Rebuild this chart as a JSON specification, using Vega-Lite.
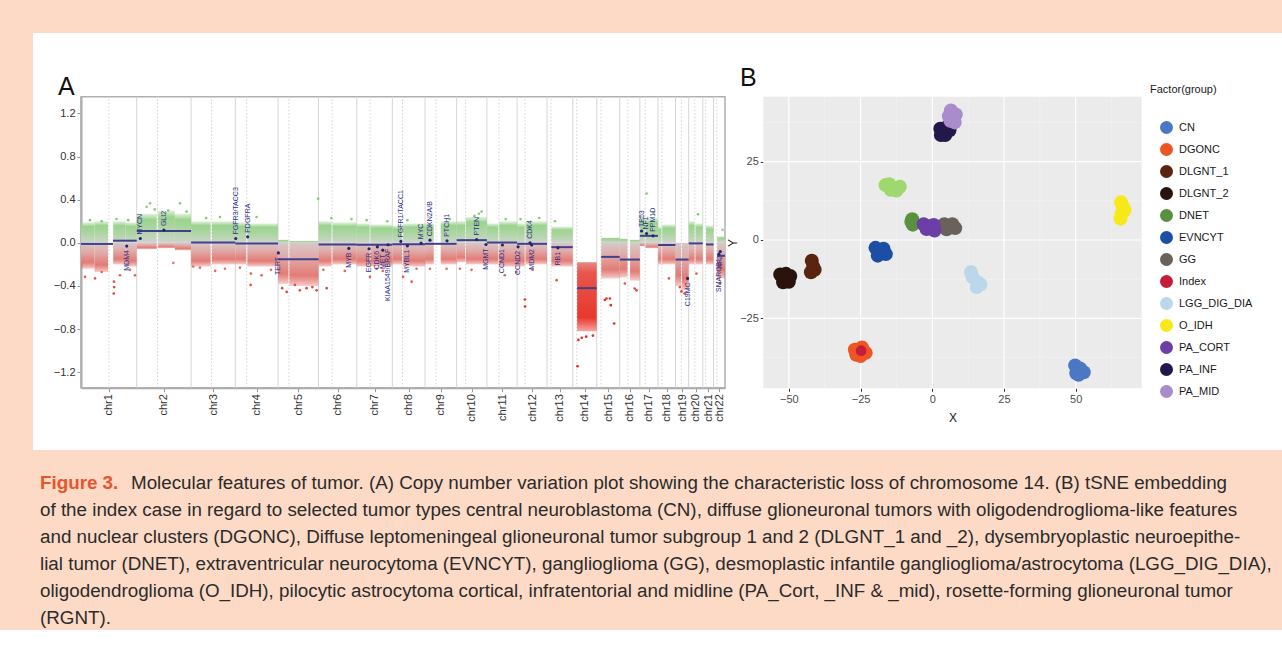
{
 "$schema": "https://vega.github.io/schema/vega-lite/v6.json",
 "background": "#fcdac6",
 "padding": {"left": 33, "top": 33, "right": 0, "bottom": 0},
 "spacing": 0,
 "config": {"view": {"stroke": null}, "font": "Liberation Sans"},
 "datasets": {
  "bounds": [{"p":249.25},{"p":492.45},{"p":690.45},{"p":881.6},{"p":1062.5},{"p":1233.6},{"p":1392.7},{"p":1539.1},{"p":1680.3},{"p":1815.8},{"p":1950.8},{"p":2084.65},{"p":2199.85},{"p":2307.2},{"p":2409.7},{"p":2500.05},{"p":2581.25},{"p":2659.35},{"p":2718.45},{"p":2781.45},{"p":2829.55}],
  "cens": [{"p":125},{"p":342.55},{"p":583.45},{"p":740.85},{"p":930},{"p":1123.5},{"p":1293.5},{"p":1438.3},{"p":1588.1},{"p":1720.5},{"p":1869.5},{"p":1986.6},{"p":2102.55},{"p":2217.45},{"p":2326.2},{"p":2446.3},{"p":2524.05},{"p":2598.45},{"p":2685.85},{"p":2745.95},{"p":2794.65},{"p":2844.25}],
  "bands": [
   {"s":0,"e":60,"hi":0.19,"lo":-0.24},{"s":60,"e":121,"hi":0.2,"lo":-0.27},{"s":144,"e":200,"hi":0.2,"lo":-0.2},{"s":200,"e":249.25,"hi":0.19,"lo":-0.22},
   {"s":249.5,"e":339,"hi":0.27,"lo":-0.06},{"s":345,"e":420,"hi":0.3,"lo":-0.05},{"s":420,"e":492.4,"hi":0.27,"lo":-0.07},
   {"s":492.5,"e":580,"hi":0.2,"lo":-0.22},{"s":586,"e":690.4,"hi":0.2,"lo":-0.2},
   {"s":690.5,"e":739,"hi":0.19,"lo":-0.2},{"s":744,"e":881.5,"hi":0.18,"lo":-0.22},
   {"s":881.7,"e":928,"hi":0.03,"lo":-0.38},{"s":932,"e":1062.4,"hi":0.02,"lo":-0.4},
   {"s":1062.6,"e":1121,"hi":0.2,"lo":-0.22},{"s":1125,"e":1233.5,"hi":0.19,"lo":-0.2},
   {"s":1233.7,"e":1291.5,"hi":0.18,"lo":-0.22},{"s":1294.6,"e":1392.6,"hi":0.17,"lo":-0.22},
   {"s":1392.8,"e":1436,"hi":0.16,"lo":-0.2},{"s":1441,"e":1539,"hi":0.18,"lo":-0.22},
   {"s":1539.2,"e":1578,"hi":0.18,"lo":-0.2},{"s":1609,"e":1680.2,"hi":0.2,"lo":-0.2},
   {"s":1680.4,"e":1719,"hi":0.2,"lo":-0.18},{"s":1722.3,"e":1815.7,"hi":0.24,"lo":-0.2},
   {"s":1815.9,"e":1866.8,"hi":0.18,"lo":-0.2},{"s":1870.8,"e":1950.7,"hi":0.2,"lo":-0.22},
   {"s":1950.9,"e":1984.8,"hi":0.18,"lo":-0.22},{"s":1988.3,"e":2084.6,"hi":0.2,"lo":-0.2},
   {"s":2104.15,"e":2199.8,"hi":0.15,"lo":-0.22},
   {"s":2327.2,"e":2409.6,"hi":0.05,"lo":-0.33},
   {"s":2409.8,"e":2444.7,"hi":0.04,"lo":-0.32},{"s":2456.2,"e":2500,"hi":0.03,"lo":-0.35},
   {"s":2500.1,"e":2522,"hi":0.25,"lo":-0.03},{"s":2525,"e":2581.2,"hi":0.23,"lo":-0.05},
   {"s":2581.3,"e":2596.6,"hi":0.15,"lo":-0.2},{"s":2599.7,"e":2659.3,"hi":0.17,"lo":-0.2},
   {"s":2659.4,"e":2683.9,"hi":0,"lo":-0.4},{"s":2687.9,"e":2718.4,"hi":0,"lo":-0.44},
   {"s":2718.5,"e":2744.8,"hi":0.2,"lo":-0.2},{"s":2748.4,"e":2781.4,"hi":0.18,"lo":-0.2},
   {"s":2796,"e":2829.5,"hi":0.16,"lo":-0.2},
   {"s":2845.55,"e":2880.8,"hi":0.06,"lo":-0.33}
  ],
  "deep": [{"s":2219.35,"e":2307.1,"hi":-0.18,"lo":-0.82}],
  "pts": [
   {"p":17.9,"v":-0.315},{"p":62.6,"v":-0.33},{"p":92.6,"v":-0.27},{"p":147.6,"v":-0.36},{"p":148.5,"v":-0.41},{"p":146.5,"v":-0.47},{"p":174.4,"v":-0.3},{"p":219,"v":-0.25},{"p":241.5,"v":-0.3},{"p":40,"v":0.21},{"p":92.6,"v":0.2},{"p":159,"v":0.22},{"p":211,"v":0.21},
   {"p":412.8,"v":-0.186},{"p":293.8,"v":0.334},{"p":308.6,"v":0.366},{"p":442.8,"v":0.366},{"p":390.4,"v":0.3},{"p":472.7,"v":0.29},{"p":330,"v":0.31},
   {"p":502,"v":-0.22},{"p":532,"v":-0.23},{"p":644,"v":-0.24},{"p":621.6,"v":0.24},{"p":560,"v":0.23},{"p":600,"v":-0.26},
   {"p":760,"v":-0.285},{"p":759,"v":-0.39},{"p":808,"v":-0.3},{"p":711,"v":-0.23},{"p":785.6,"v":0.24},{"p":850,"v":-0.25},
   {"p":920,"v":-0.455},{"p":979,"v":-0.44},{"p":1009,"v":-0.42},{"p":1054,"v":-0.44},{"p":957,"v":-0.39},{"p":1061,"v":0.41},{"p":900,"v":-0.42},{"p":1035,"v":-0.41},
   {"p":1099,"v":-0.42},{"p":1084,"v":-0.25},{"p":1120,"v":0.23},{"p":1180,"v":-0.26},{"p":1210,"v":0.22},
   {"p":1292.5,"v":-0.315},{"p":1322,"v":-0.24},{"p":1350,"v":-0.26},{"p":1277.7,"v":0.21},{"p":1370,"v":0.2},
   {"p":1441,"v":-0.315},{"p":1479,"v":-0.36},{"p":1501,"v":-0.24},{"p":1460,"v":0.21},
   {"p":1561,"v":-0.24},{"p":1635.5,"v":-0.24},{"p":1650,"v":0.22},
   {"p":1747,"v":-0.25},{"p":1695,"v":-0.24},{"p":1792,"v":0.29},{"p":1780,"v":0.27},{"p":1760,"v":0.25},
   {"p":1896,"v":-0.3},{"p":1948,"v":-0.27},{"p":1900,"v":0.22},
   {"p":1985.7,"v":-0.525},{"p":1986.5,"v":-0.59},{"p":2020,"v":-0.25},{"p":1966,"v":0.22},{"p":2050,"v":0.23},
   {"p":2127.5,"v":-0.346},{"p":2120,"v":0.2},
   {"p":2221.4,"v":-1.144},{"p":2225,"v":-0.9},{"p":2240,"v":-0.88},{"p":2290,"v":-0.86},{"p":2260,"v":-0.87},
   {"p":2343.5,"v":-0.53},{"p":2351,"v":-0.516},{"p":2366,"v":-0.516},{"p":2370,"v":-0.578},{"p":2385,"v":-0.748},
   {"p":2433,"v":-0.377},{"p":2477,"v":-0.423},{"p":2485,"v":-0.44},
   {"p":2530,"v":0.458},{"p":2560,"v":0.28},
   {"p":2630,"v":-0.33},
   {"p":2679,"v":-0.41},{"p":2686,"v":-0.45},{"p":2700,"v":-0.47},
   {"p":2760,"v":0.264},{"p":2753,"v":-0.285},
   {"p":2860,"v":-0.37},{"p":2870,"v":0.12}
  ],
  "segs": [
   {"s":0,"e":143,"v":-0.01},{"s":143,"e":249.25,"v":0.02},{"s":249.25,"e":492.45,"v":0.11},{"s":492.45,"e":690.45,"v":0.003},{"s":690.45,"e":881.6,"v":-0.006},{"s":881.6,"e":1062.5,"v":-0.153},{"s":1062.5,"e":1233.6,"v":-0.015},{"s":1233.6,"e":1392.7,"v":-0.018},{"s":1392.7,"e":1539.1,"v":-0.012},{"s":1539.1,"e":1680.3,"v":-0.009},{"s":1680.3,"e":1815.8,"v":0.025},{"s":1815.8,"e":1950.8,"v":0.003},{"s":1950.8,"e":2084.65,"v":-0.009},{"s":2104,"e":2199.85,"v":-0.04},{"s":2219,"e":2307.2,"v":-0.42},{"s":2327,"e":2409.7,"v":-0.13},{"s":2409.7,"e":2500.05,"v":-0.155},{"s":2500.05,"e":2581.25,"v":0.065},{"s":2581.25,"e":2659.35,"v":-0.02},{"s":2659.35,"e":2718.45,"v":-0.155},{"s":2718.45,"e":2781.45,"v":-0.005},{"s":2796,"e":2829.55,"v":-0.015},{"s":2845.5,"e":2880.85,"v":-0.12}
  ],
  "genes": [
   {"g":"MDM4","p":204.5,"v":-0.03,"side":"b"},{"g":"MYCN","p":265.25,"v":0.04,"side":"a"},{"g":"GLI2","p":370.75,"v":0.118,"side":"a"},{"g":"FGFR3/TACC3","p":692.25,"v":0.04,"side":"a"},{"g":"PDGFRA","p":745.45,"v":0.056,"side":"a"},{"g":"TERT","p":882.9,"v":-0.093,"side":"b"},{"g":"MYB","p":1198,"v":-0.052,"side":"b"},{"g":"EGFR","p":1288.7,"v":-0.055,"side":"b"},{"g":"CDK6","p":1325.9,"v":-0.037,"side":"b"},{"g":"MET","p":1350,"v":-0.068,"side":"b"},{"g":"KIAA1549/BRAF","p":1373.6,"v":-0.018,"side":"b"},{"g":"FGFR1/TACC1","p":1431,"v":0.013,"side":"a"},{"g":"MYBL1","p":1460.2,"v":-0.028,"side":"b"},{"g":"MYC","p":1521.4,"v":-0.003,"side":"a"},{"g":"CDKN2A/B","p":1561.1,"v":0.025,"side":"a"},{"g":"PTCH1","p":1637.3,"v":0.019,"side":"a"},{"g":"PTEN","p":1769.9,"v":0.031,"side":"a"},{"g":"MGMT","p":1811.6,"v":-0.015,"side":"b"},{"g":"CCND1","p":1885.3,"v":-0.02,"side":"b"},{"g":"CCND2","p":1955.2,"v":-0.037,"side":"b"},{"g":"CDK4","p":2008.8,"v":0.0,"side":"a"},{"g":"MDM2","p":2016,"v":-0.02,"side":"b"},{"g":"RB1","p":2133.55,"v":-0.046,"side":"b"},{"g":"TP53","p":2507.65,"v":0.11,"side":"a"},{"g":"NF1","p":2529.65,"v":0.087,"side":"a"},{"g":"PPM1D","p":2558.75,"v":0.065,"side":"a"},{"g":"C19MC","p":2713.55,"v":-0.33,"side":"b"},{"g":"SMARCB1","p":2853.65,"v":-0.105,"side":"b"},{"g":"NF2","p":2859.7,"v":-0.08,"side":"b"}
  ],
  "tsne": [
   {"group":"CN","tx":49.8,"ty":-40},{"group":"CN","tx":51.5,"ty":-41},{"group":"CN","tx":52.8,"ty":-42.2},{"group":"CN","tx":50.2,"ty":-42.5},{"group":"CN","tx":51,"ty":-43},
   {"group":"DGONC","tx":-27,"ty":-35},{"group":"DGONC","tx":-24.5,"ty":-34.3},{"group":"DGONC","tx":-23.2,"ty":-36},{"group":"DGONC","tx":-25,"ty":-37},{"group":"DGONC","tx":-26.5,"ty":-36.6},
   {"group":"DLGNT_1","tx":-42,"ty":-6.6},{"group":"DLGNT_1","tx":-41.5,"ty":-8.5},{"group":"DLGNT_1","tx":-42.3,"ty":-10.3},{"group":"DLGNT_1","tx":-41,"ty":-9.5},
   {"group":"DLGNT_2","tx":-53,"ty":-11},{"group":"DLGNT_2","tx":-51,"ty":-10.8},{"group":"DLGNT_2","tx":-49.5,"ty":-11.5},{"group":"DLGNT_2","tx":-52,"ty":-13.5},{"group":"DLGNT_2","tx":-50,"ty":-13.3},
   {"group":"DNET","tx":-7,"ty":6.6},{"group":"DNET","tx":-6.8,"ty":4.9},{"group":"DNET","tx":-7.3,"ty":5.8},
   {"group":"EVNCYT","tx":-19.8,"ty":-2.5},{"group":"EVNCYT","tx":-17,"ty":-2.8},{"group":"EVNCYT","tx":-16.2,"ty":-4.5},{"group":"EVNCYT","tx":-19,"ty":-5},{"group":"EVNCYT","tx":-18,"ty":-3.8},
   {"group":"GG","tx":4.2,"ty":5},{"group":"GG","tx":6,"ty":4.5},{"group":"GG","tx":8,"ty":3.8},{"group":"GG","tx":7,"ty":5},{"group":"GG","tx":5,"ty":3.4},
   {"group":"LGG_DIG_DIA","tx":13.5,"ty":-10.2},{"group":"LGG_DIG_DIA","tx":14,"ty":-11.8},{"group":"LGG_DIG_DIA","tx":15.8,"ty":-13.5},{"group":"LGG_DIG_DIA","tx":16.8,"ty":-14.2},{"group":"LGG_DIG_DIA","tx":15.5,"ty":-15},
   {"group":"O_IDH","tx":65.8,"ty":12},{"group":"O_IDH","tx":66.5,"ty":10.5},{"group":"O_IDH","tx":66,"ty":8.5},{"group":"O_IDH","tx":65.6,"ty":6.8},{"group":"O_IDH","tx":67,"ty":9.5},
   {"group":"PA_INF","tx":2.8,"ty":35.5},{"group":"PA_INF","tx":4.5,"ty":33.5},{"group":"PA_INF","tx":6,"ty":35},{"group":"PA_INF","tx":3,"ty":33.5},{"group":"PA_INF","tx":5,"ty":36},
   {"group":"PA_MID","tx":6.5,"ty":41.3},{"group":"PA_MID","tx":8.2,"ty":40},{"group":"PA_MID","tx":6.3,"ty":38},{"group":"PA_MID","tx":7.8,"ty":37.5},{"group":"PA_MID","tx":5.8,"ty":39.5},
   {"group":"RGNT","tx":-16.3,"ty":17.5},{"group":"RGNT","tx":-14.5,"ty":16},{"group":"RGNT","tx":-12.5,"ty":15.8},{"group":"RGNT","tx":-11.3,"ty":17},{"group":"RGNT","tx":-15,"ty":17.8},
   {"group":"PA_CORT","tx":-3,"ty":5},{"group":"PA_CORT","tx":-1,"ty":4.3},{"group":"PA_CORT","tx":0.8,"ty":3},{"group":"PA_CORT","tx":-2,"ty":3.5},{"group":"PA_CORT","tx":0.5,"ty":4.8},
   {"group":"Index","tx":-24.8,"ty":-35.3}
  ],
  "gxmaj": [{"g":-50},{"g":-25},{"g":0},{"g":25},{"g":50}],
  "gxmin": [{"g":-37.5},{"g":-12.5},{"g":12.5},{"g":37.5},{"g":62.5}],
  "gymaj": [{"g":-25},{"g":0},{"g":25}],
  "gymin": [{"g":-37.5},{"g":-12.5},{"g":12.5},{"g":37.5}],
  "cap": [
   {"line":2,"t":"of the index case in regard to selected tumor types central neuroblastoma (CN), diffuse glioneuronal tumors with oligodendroglioma-like features"},
   {"line":3,"t":"and nuclear clusters (DGONC), Diffuse leptomeningeal glioneuronal tumor subgroup 1 and 2 (DLGNT_1 and _2), dysembryoplastic neuroepithe-"},
   {"line":4,"t":"lial tumor (DNET), extraventricular neurocytoma (EVNCYT), ganglioglioma (GG), desmoplastic infantile ganglioglioma/astrocytoma (LGG_DIG_DIA),"},
   {"line":5,"t":"oligodendroglioma (O_IDH), pilocytic astrocytoma cortical, infratentorial and midline (PA_Cort, _INF & _mid), rosette-forming glioneuronal tumor"},
   {"line":6,"t":"(RGNT)."}
  ]
 },
 "vconcat": [
  {
   "width": 1249,
   "height": 417,
   "view": {"fill": "#ffffff", "stroke": null},
   "resolve": {"scale": {"x": "independent", "y": "independent", "color": "independent", "size": "independent"}, "axis": {"x": "independent", "y": "independent"}, "legend": {"color": "independent", "size": "independent"}},
   "layer": [
    {
     "layer": [
      {
       "data": {"values": [{"k": "A"}]},
       "mark": {"type": "rect", "fillOpacity": 0, "fill": "#ffffff", "stroke": "#b0b0b0", "strokeWidth": 1.5},
       "encoding": {
        "x": {"datum": 0, "scale": {"domain": [0, 2880.85], "range": [48, 692], "nice": false, "zero": false}, "axis": {"orient": "bottom", "offset": -62.3, "values": [124.6, 370.85, 591.45, 786.0, 972.05, 1148.05, 1313.15, 1465.9, 1609.7, 1748.05, 1883.3, 2017.7, 2142.25, 2253.5, 2358.45, 2454.9, 2540.65, 2620.3, 2688.9, 2749.95, 2805.5, 2855.2], "labelExpr": "'chr' + (indexof([124.6, 370.85, 591.45, 786.0, 972.05, 1148.05, 1313.15, 1465.9, 1609.7, 1748.05, 1883.3, 2017.7, 2142.25, 2253.5, 2358.45, 2454.9, 2540.65, 2620.3, 2688.9, 2749.95, 2805.5, 2855.2], datum.value) + 1)", "labelAngle": -90, "labelOverlap": false, "labelBound": false, "labelFlush": false, "labelFontSize": 11, "labelColor": "#333333", "labelPadding": 2, "tickSize": 4, "tickColor": "#999999", "domainColor": "#a8a8a8", "domainWidth": 2, "grid": false, "title": null}},
        "x2": {"datum": 2880.85},
        "y": {"datum": -1.343, "scale": {"domain": [-1.343, 1.355], "range": [354.7, 63.7], "nice": false, "zero": false}, "axis": {"orient": "left", "offset": -48, "values": [-1.2, -0.8, -0.4, 0, 0.4, 0.8, 1.2], "format": ".1f", "labelOverlap": false, "labelFontSize": 11, "labelColor": "#333333", "labelPadding": 2, "tickSize": 4, "tickColor": "#999999", "domainColor": "#a8a8a8", "domainWidth": 2, "grid": false, "title": null}},
        "y2": {"datum": 1.355}
       }
      },
      {
       "data": {"name": "bounds"},
       "mark": {"type": "rule", "color": "#d6d6d6", "strokeWidth": 1},
       "encoding": {
        "x": {"field": "p", "type": "quantitative"},
        "y": {"datum": -1.343},
        "y2": {"datum": 1.355}
       }
      },
      {
       "data": {"name": "cens"},
       "mark": {"type": "rule", "color": "#d2d2d2", "strokeWidth": 1, "strokeDash": [1.5, 2]},
       "encoding": {
        "x": {"field": "p", "type": "quantitative"},
        "y": {"datum": -1.343},
        "y2": {"datum": 1.355}
       }
      },
      {
       "data": {"name": "bands"},
       "transform": [{"filter": "datum.hi > 0"}],
       "mark": {"type": "rect", "color": {"gradient": "linear", "x1": 0, "y1": 1, "x2": 0, "y2": 0, "stops": [{"offset": 0, "color": "#cfd2cd"}, {"offset": 0.35, "color": "#b3d6aa"}, {"offset": 0.8, "color": "#9bd38e"}, {"offset": 1, "color": "rgba(160,214,146,0.3)"}]}},
       "encoding": {
        "x": {"field": "s", "type": "quantitative"},
        "x2": {"field": "e"},
        "y": {"field": "hi", "type": "quantitative"},
        "y2": {"datum": 0}
       }
      },
      {
       "data": {"name": "bands"},
       "mark": {"type": "rect", "color": {"gradient": "linear", "x1": 0, "y1": 0, "x2": 0, "y2": 1, "stops": [{"offset": 0, "color": "#d6c8c8"}, {"offset": 0.35, "color": "#e0aaa8"}, {"offset": 0.75, "color": "#e27c76"}, {"offset": 1, "color": "rgba(226,96,88,0.3)"}]}},
       "encoding": {
        "x": {"field": "s", "type": "quantitative"},
        "x2": {"field": "e"},
        "y": {"field": "lo", "type": "quantitative"},
        "y2": {"datum": 0}
       }
      },
      {
       "data": {"name": "deep"},
       "mark": {"type": "rect", "color": {"gradient": "linear", "x1": 0, "y1": 0, "x2": 0, "y2": 1, "stops": [{"offset": 0, "color": "#e58a82"}, {"offset": 0.15, "color": "#e8564c"}, {"offset": 0.8, "color": "#e8382c"}, {"offset": 1, "color": "rgba(232,40,30,0.4)"}]}},
       "encoding": {
        "x": {"field": "s", "type": "quantitative"},
        "x2": {"field": "e"},
        "y": {"field": "lo", "type": "quantitative"},
        "y2": {"field": "hi"}
       }
      },
      {
       "data": {"name": "pts"},
       "mark": {"type": "point", "filled": true, "size": 7, "opacity": 1},
       "encoding": {
        "x": {"field": "p", "type": "quantitative"},
        "y": {"field": "v", "type": "quantitative"},
        "color": {"field": "v", "type": "quantitative", "scale": {"domain": [-0.6, -0.25, 0, 0.2], "range": ["#e6261c", "#e06a62", "#d0c4c4", "#86cc74"], "interpolate": "rgb", "clamp": true}, "legend": null}
       }
      },
      {
       "data": {"name": "segs"},
       "mark": {"type": "rule", "color": "#40408e", "strokeWidth": 2},
       "encoding": {
        "x": {"field": "s", "type": "quantitative"},
        "x2": {"field": "e"},
        "y": {"field": "v", "type": "quantitative"}
       }
      },
      {
       "data": {"name": "genes"},
       "mark": {"type": "point", "filled": true, "size": 10, "color": "#24246e", "opacity": 1},
       "encoding": {
        "x": {"field": "p", "type": "quantitative"},
        "y": {"field": "v", "type": "quantitative"}
       }
      },
      {
       "data": {"name": "genes"},
       "transform": [{"filter": "datum.side === 'a'"}],
       "mark": {"type": "text", "angle": 270, "align": "left", "baseline": "middle", "dx": 4, "fontSize": 7, "color": "#30308a"},
       "encoding": {
        "x": {"field": "p", "type": "quantitative"},
        "y": {"field": "v", "type": "quantitative"},
        "text": {"field": "g"}
       }
      },
      {
       "data": {"name": "genes"},
       "transform": [{"filter": "datum.side === 'b'"}],
       "mark": {"type": "text", "angle": 270, "align": "right", "baseline": "middle", "dx": -4, "fontSize": 7, "color": "#30308a"},
       "encoding": {
        "x": {"field": "p", "type": "quantitative"},
        "y": {"field": "v", "type": "quantitative"},
        "text": {"field": "g"}
       }
      },
      {
       "data": {"values": [{"t": "A"}]},
       "mark": {"type": "text", "align": "left", "baseline": "alphabetic", "fontSize": 25, "color": "#111111"},
       "encoding": {
        "x": {"datum": -103},
        "y": {"datum": 1.371},
        "text": {"field": "t"}
       }
      }
     ]
    },
    {
     "layer": [
      {
       "data": {"name": "tsne"},
       "mark": {"type": "point", "opacity": 0},
       "encoding": {
        "x": {"field": "tx", "type": "quantitative", "scale": {"domain": [-58.9, 73.0], "range": [730.3, 1108.7], "nice": false, "zero": false}, "axis": {"orient": "bottom", "offset": -61.7, "values": [-50, -25, 0, 25, 50], "title": "X", "titleFontSize": 12, "titleFontWeight": "normal", "titleColor": "#1a1a1a", "titlePadding": 8, "labelFontSize": 11, "labelColor": "#4d4d4d", "labelPadding": 2, "labelFlush": false, "tickSize": 3, "tickColor": "#333333", "domain": false, "grid": false}},
        "y": {"field": "ty", "type": "quantitative", "scale": {"domain": [-47.3, 45.7], "range": [355.3, 63.7], "nice": false, "zero": false}, "axis": {"orient": "left", "offset": -730.3, "values": [-25, 0, 25], "title": "Y", "titleFontSize": 12, "titleFontWeight": "normal", "titleColor": "#1a1a1a", "titlePadding": 0, "labelFontSize": 11, "labelColor": "#4d4d4d", "labelPadding": 2, "labelFlush": false, "tickSize": 3, "tickColor": "#333333", "domain": false, "grid": false}}
       }
      },
      {
       "data": {"values": [{"k": "B"}]},
       "mark": {"type": "rect", "color": "#ebebeb"},
       "encoding": {
        "x": {"datum": -58.9},
        "x2": {"datum": 73.0},
        "y": {"datum": -47.3},
        "y2": {"datum": 45.7}
       }
      },
      {
       "data": {"name": "gxmin"},
       "mark": {"type": "rule", "color": "#f5f5f5", "strokeWidth": 0.6},
       "encoding": {
        "x": {"field": "g", "type": "quantitative"},
        "y": {"datum": -47.3},
        "y2": {"datum": 45.7}
       }
      },
      {
       "data": {"name": "gymin"},
       "mark": {"type": "rule", "color": "#f5f5f5", "strokeWidth": 0.6},
       "encoding": {
        "y": {"field": "g", "type": "quantitative"},
        "x": {"datum": -58.9},
        "x2": {"datum": 73.0}
       }
      },
      {
       "data": {"name": "gxmaj"},
       "mark": {"type": "rule", "color": "#ffffff", "strokeWidth": 1.2},
       "encoding": {
        "x": {"field": "g", "type": "quantitative"},
        "y": {"datum": -47.3},
        "y2": {"datum": 45.7}
       }
      },
      {
       "data": {"name": "gymaj"},
       "mark": {"type": "rule", "color": "#ffffff", "strokeWidth": 1.2},
       "encoding": {
        "y": {"field": "g", "type": "quantitative"},
        "x": {"datum": -58.9},
        "x2": {"datum": 73.0}
       }
      },
      {
       "data": {"name": "tsne"},
       "mark": {"type": "point", "filled": true, "opacity": 1, "shape": "circle"},
       "encoding": {
        "x": {"field": "tx", "type": "quantitative"},
        "y": {"field": "ty", "type": "quantitative"},
        "color": {"field": "group", "type": "nominal", "sort": null,
         "scale": {"domain": ["CN", "DGONC", "DLGNT_1", "DLGNT_2", "DNET", "EVNCYT", "GG", "Index", "LGG_DIG_DIA", "O_IDH", "PA_CORT", "PA_INF", "PA_MID", "RGNT"], "range": ["#4a78c4", "#ee5522", "#5a2410", "#2a130c", "#5a9040", "#1d4ea6", "#6a625a", "#c41e3a", "#bcd7ea", "#f7e81a", "#6b3fa6", "#22194a", "#a88ccc", "#9fd86e"]},
         "legend": {"title": "Factor(group)", "orient": "none", "legendX": 1117, "legendY": 51, "values": ["CN", "DGONC", "DLGNT_1", "DLGNT_2", "DNET", "EVNCYT", "GG", "Index", "LGG_DIG_DIA", "O_IDH", "PA_CORT", "PA_INF", "PA_MID"], "symbolType": "circle", "symbolSize": 169, "symbolOffset": 10, "symbolStrokeWidth": 0, "labelFontSize": 11, "labelColor": "#1a1a1a", "labelOffset": 6, "titleFontSize": 11, "titleFontWeight": "normal", "titleColor": "#1a1a1a", "titlePadding": 26, "rowPadding": 9, "padding": 0}},
        "size": {"condition": {"test": "datum.group === 'Index'", "value": 115}, "value": 196}
       }
      },
      {
       "data": {"values": [{"t": "B"}]},
       "mark": {"type": "text", "align": "left", "baseline": "alphabetic", "fontSize": 25, "color": "#111111"},
       "encoding": {
        "x": {"datum": -67.05},
        "y": {"datum": 49.15},
        "text": {"field": "t"}
       }
      }
     ]
    }
   ]
  },
  {
   "width": 1249,
   "height": 180,
   "layer": [
    {
     "data": {"name": "cap"},
     "mark": {"type": "text", "align": "left", "baseline": "middle", "font": "Liberation Sans", "fontSize": 18.8, "color": "#2b2b2b"},
     "encoding": {
      "x": {"datum": 7, "scale": {"domain": [0, 1249], "nice": false, "zero": false}, "axis": null},
      "y": {"field": "line", "type": "quantitative", "scale": {"domain": [-0.222, 6.444], "reverse": true, "nice": false, "zero": false}, "axis": null},
      "text": {"field": "t"}
     }
    },
    {
     "data": {"values": [{"line": 1, "t": "Figure 3."}]},
     "mark": {"type": "text", "align": "left", "baseline": "middle", "font": "Liberation Sans", "fontSize": 18.8, "fontWeight": "bold", "color": "#e8542c"},
     "encoding": {
      "x": {"datum": 7},
      "y": {"field": "line", "type": "quantitative"},
      "text": {"field": "t"}
     }
    },
    {
     "data": {"values": [{"line": 1, "t": "Molecular features of tumor. (A) Copy number variation plot showing the characteristic loss of chromosome 14. (B) tSNE embedding"}]},
     "mark": {"type": "text", "align": "left", "baseline": "middle", "font": "Liberation Sans", "fontSize": 18.8, "color": "#2b2b2b"},
     "encoding": {
      "x": {"datum": 98},
      "y": {"field": "line", "type": "quantitative"},
      "text": {"field": "t"}
     }
    }
   ]
  }
 ]
}
